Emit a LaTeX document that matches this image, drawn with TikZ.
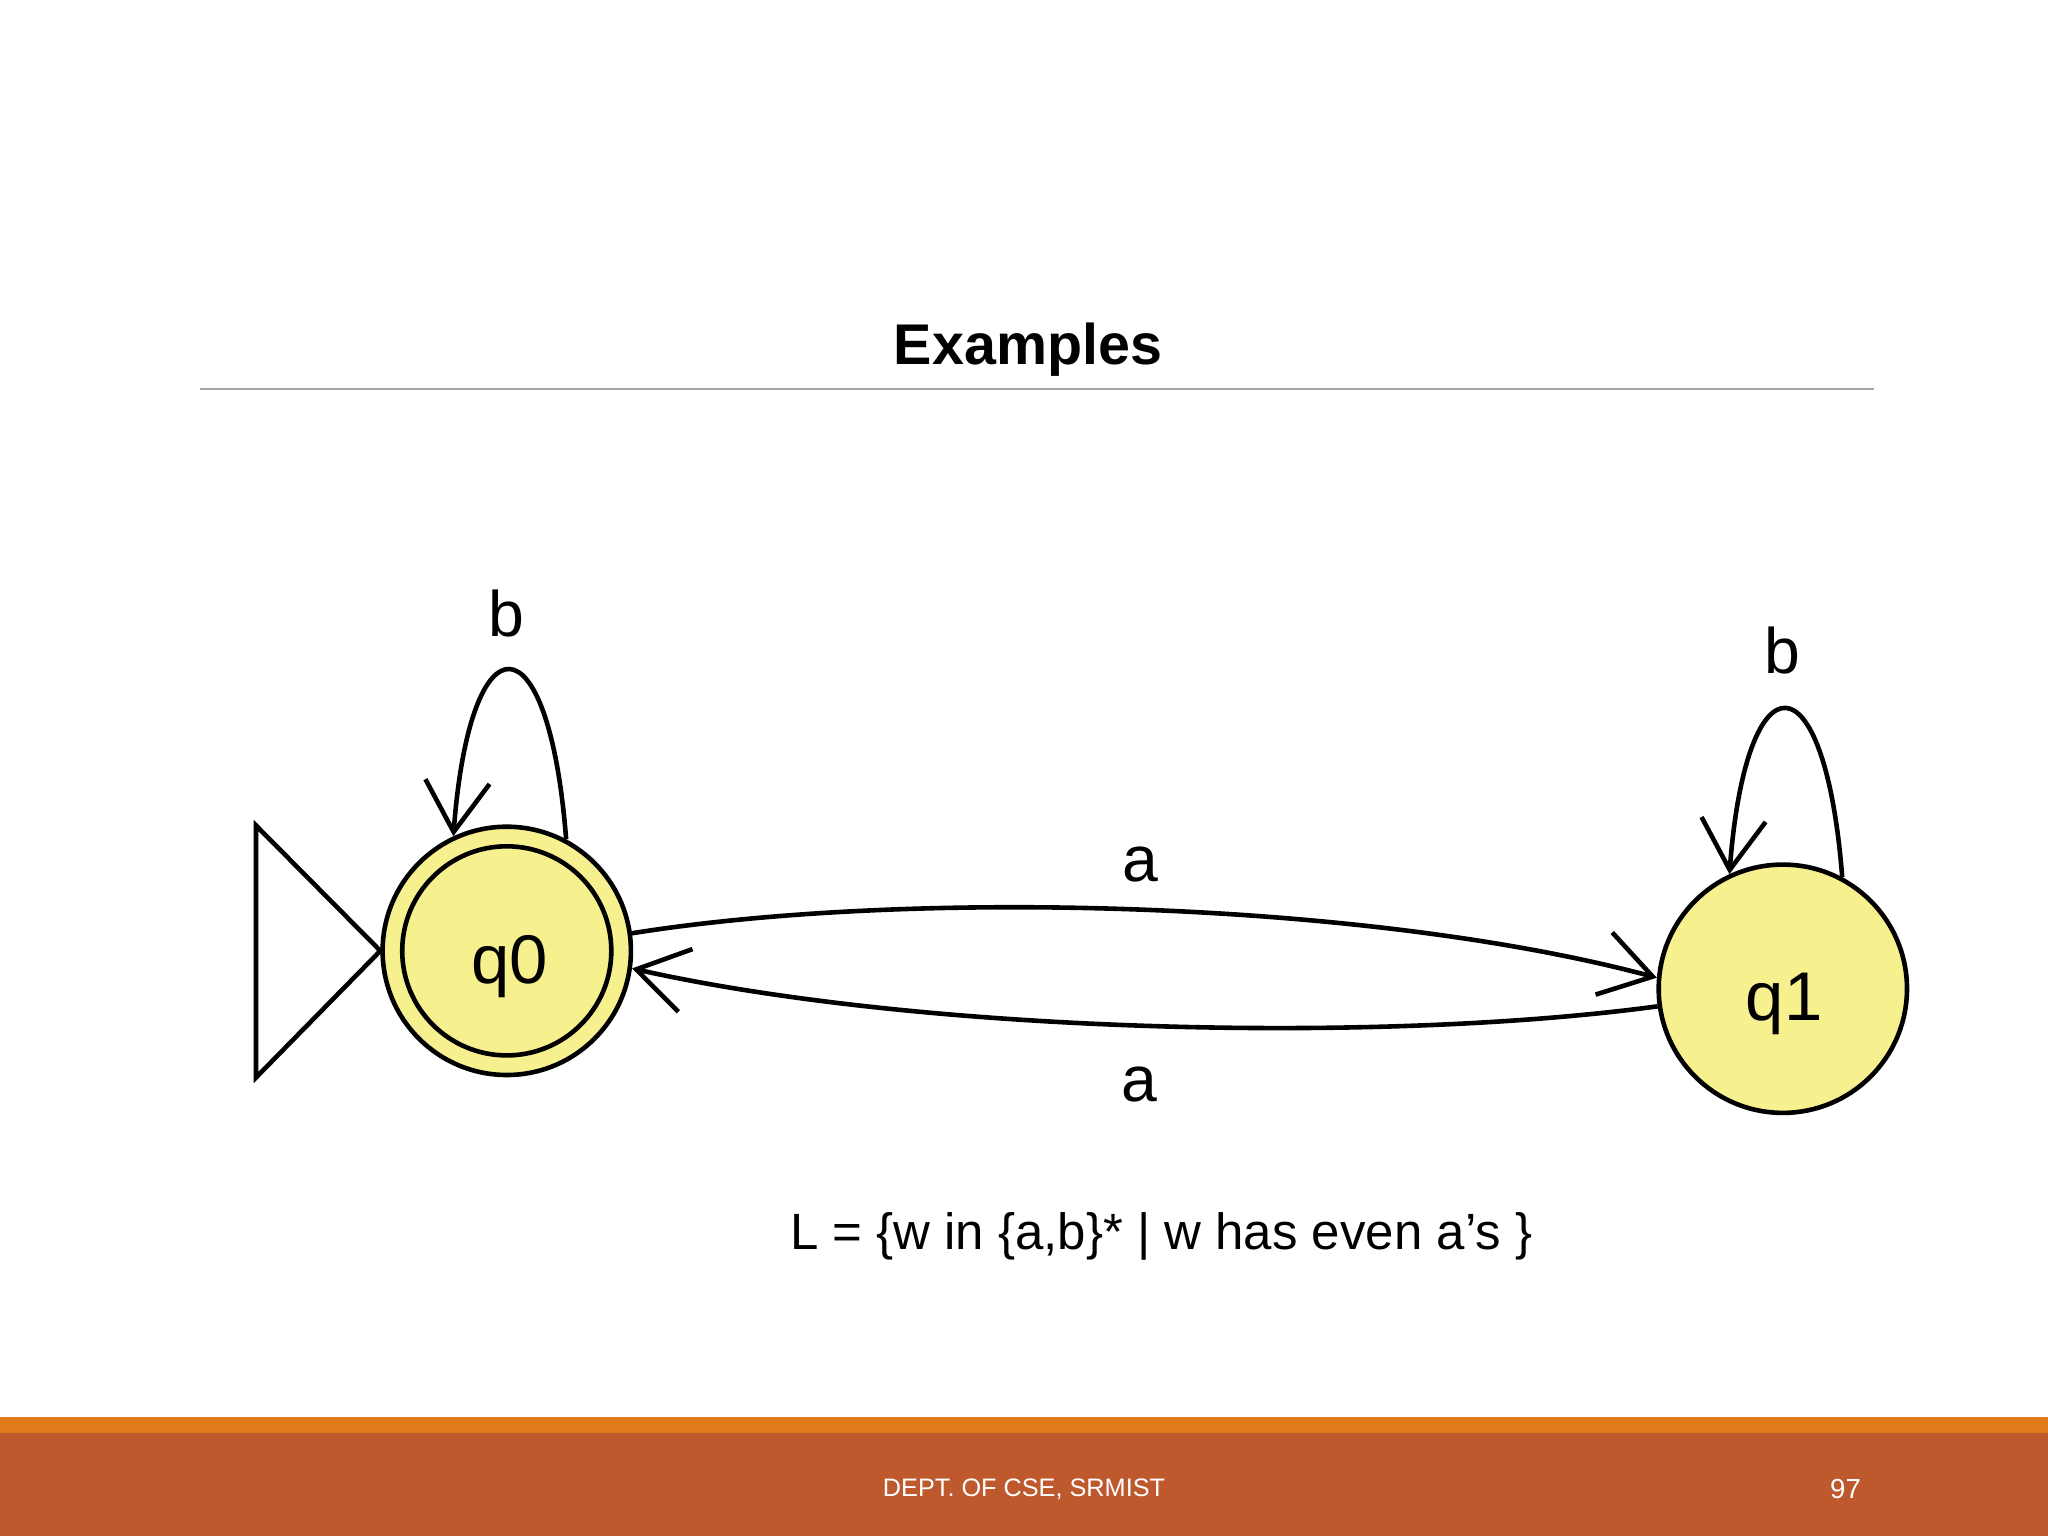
\documentclass[tikz,border=0pt]{standalone}
\usepackage{fontspec}
\setmainfont{Liberation Sans}
\usetikzlibrary{arrows.meta}
\definecolor{stfill}{HTML}{F7F08E}
\definecolor{barA}{HTML}{E07B1A}
\definecolor{barB}{HTML}{BE582D}
\tikzset{
  edge/.style={line width=1.0pt,-{Straight Barb[length=11pt,width=14pt,line width=1pt]}},
  lbl/.style={font=\fontsize{14}{16}\selectfont},
  state/.style={circle,draw,line width=1.0pt,fill=stfill,minimum size=1.9cm,inner sep=0pt,font=\fontsize{15}{16}\selectfont}
}
\begin{document}
\begin{tikzpicture}[x=0.01cm,y=-0.01cm]
\useasboundingbox (0,0) rectangle (1568,1176);
\fill[white] (0,0) rectangle (1568,1176);
\node[font=\bfseries\fontsize{12.5}{14}\selectfont] (title) at (787,268) {Examples};
\draw[gray!70,line width=0.5pt] (153,298) coordinate (l1) -- (1435,298) coordinate (l2);
\fill[barA] (0,1085) rectangle (1568,1097);
\fill[barB] (0,1097) rectangle (1568,1176);
\node[white,font=\fontsize{5.5}{7}\selectfont] (foot) at (784,1140) {DEPT. OF CSE, SRMIST};
\node[white,font=\fontsize{6}{7}\selectfont] (pg) at (1413,1140) {97};
% states
\node[state] (q0) at (388,728) {};
\node[circle,draw,line width=1.0pt,minimum size=1.6cm,inner sep=0pt] (q0i) at (388,728) {};
\node[font=\fontsize{15}{16}\selectfont] (q0t) at (390,740) {q0};
\node[state] (q1) at (1365,757) {};
\node[font=\fontsize{15}{16}\selectfont] (q1t) at (1366,769) {q1};
% start triangle
\draw[line width=1.0pt,fill=white] (196,632) coordinate (t1) -- (196,825) coordinate (t2) -- (q0.west) -- cycle;
% transitions
\draw[edge] (q0.8) .. controls (700,680) and (1050,690) .. (q1.175);
\node[lbl] (la1) at (873,662) {a};
\draw[edge] (q1.188) .. controls (1050,800) and (700,790) .. (q0.352);
\node[lbl] (la2) at (872,830) {a};
\draw[edge] (q0.62) .. controls (420,470) and (360,470) .. (q0.115);
\node[lbl] (lb1) at (388,470) {b};
\draw[edge] (q1.62) .. controls (1397,500) and (1337,500) .. (q1.115);
\node[lbl] (lb2) at (1365,498) {b};
\node[font=\fontsize{11.1}{14}\selectfont] (lang) at (889,947) {L = \{w in \{a,b\}* | w has even a’s \}};
\end{tikzpicture}
\end{document}
